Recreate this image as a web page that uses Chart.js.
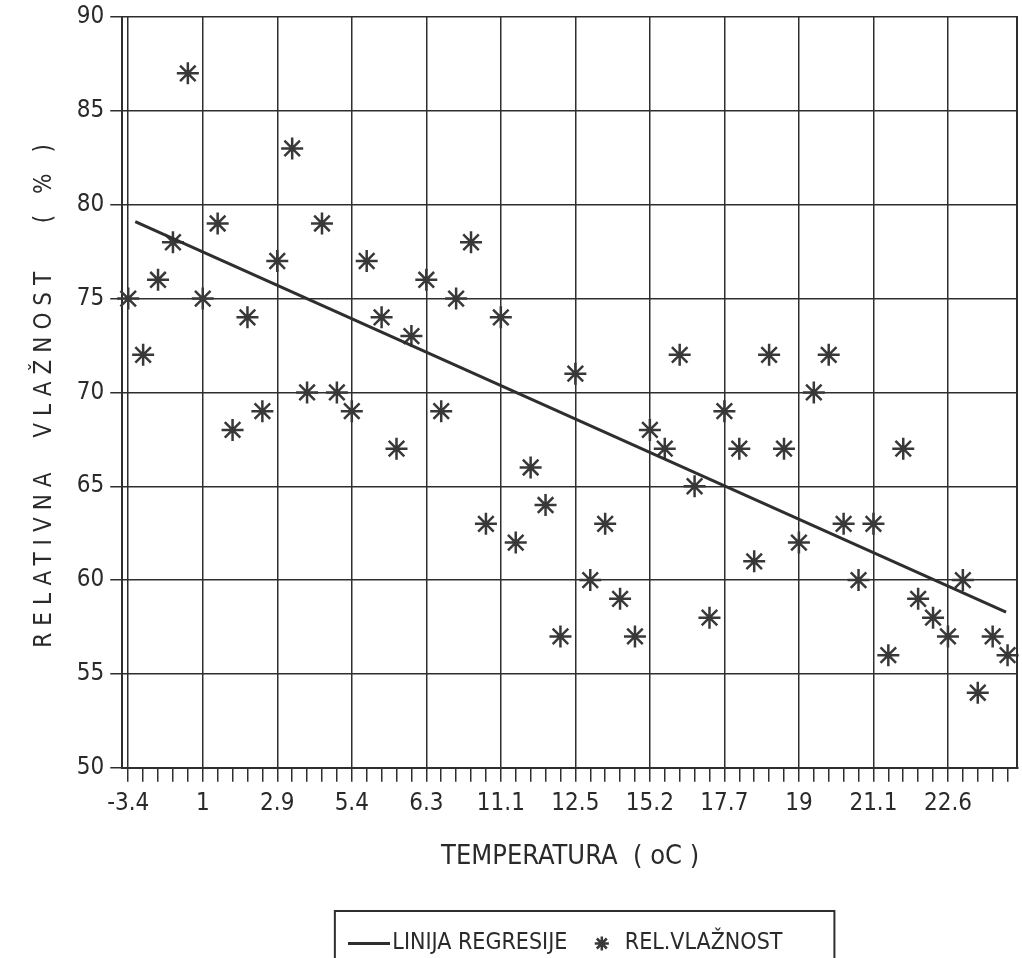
<!DOCTYPE html>
<html>
<head>
<meta charset="utf-8">
<script src="https://cdn.jsdelivr.net/npm/chart.js@4/dist/chart.umd.min.js"></script>
<style>
  body { margin: 0; background: #fff; }
</style>
</head>
<body>
<canvas id="chart" width="1022" height="958"></canvas>
<script>
// oznake na x osi (svaka peta tocka)
const tickLabels = ['-3.4', '1', '2.9', '5.4', '6.3', '11.1', '12.5', '15.2', '17.7', '19', '21.1', '22.6'];
// relativna vlaznost (%)
const relVlaznost = [75, 72, 76, 78, 87, 75, 79, 68, 74, 69,
                     77, 83, 70, 79, 70, 69, 77, 74, 67, 73,
                     76, 69, 75, 78, 63, 74, 62, 66, 64, 57,
                     71, 60, 63, 59, 57, 68, 67, 72, 65, 58,
                     69, 67, 61, 72, 67, 62, 70, 72, 63, 60,
                     63, 56, 67, 59, 58, 57, 60, 54, 57, 56];
// linija regresije, pocetak i kraj
const regresijaX = [0.47, 58.9];
const regresijaY = [79.1, 58.3];

const ink = '#2e2e2e';
const fontFam = "'DejaVu Sans Condensed', 'Liberation Sans Narrow', 'DejaVu Sans', sans-serif";

// sličica crte za legendu
const crta = document.createElement('canvas');
crta.width = 42;
crta.height = 3;
const cc = crta.getContext('2d');
cc.fillStyle = ink;
cc.fillRect(0, 0, 42, 3);

// y naslov je razmaknut kao na originalu
const spacedTitle = {
    id: 'spacedTitle',
    afterLayout(chart) {
        const s = chart.scales.y;
        if (s._spaced) return;
        const orig = s.drawTitle.bind(s);
        s.drawTitle = function () {
            this.ctx.save();
            this.ctx.letterSpacing = '7px';
            orig();
            this.ctx.restore();
        };
        s._spaced = true;
    }
};

// desni rub i okvir oko legende
const frames = {
    id: 'frames',
    afterDraw(chart) {
        const ctx = chart.ctx;
        const a = chart.chartArea;
        ctx.save();
        ctx.strokeStyle = ink;
        ctx.lineWidth = 2;
        ctx.beginPath();
        ctx.moveTo(a.right - 1, a.top);
        ctx.lineTo(a.right - 1, a.bottom);
        ctx.stroke();
        const boxes = chart.legend.legendHitBoxes;
        if (boxes && boxes.length) {
            const left = Math.min(...boxes.map(b => b.left));
            const right = Math.max(...boxes.map(b => b.left + b.width));
            const top = Math.min(...boxes.map(b => b.top));
            ctx.strokeRect(left - 23, top - 21, right - left + 75, 90);
        }
        ctx.restore();
    }
};

const ctx = document.getElementById('chart');

new Chart(ctx, {
    type: 'scatter',
    data: {
        datasets: [{
            label: 'LINIJA REGRESIJE',
            data: regresijaX.map((x, i) => ({x: x, y: regresijaY[i]})),
            showLine: true,
            borderColor: ink,
            borderWidth: 3,
            pointRadius: 0,
            pointStyle: crta
        }, {
            label: 'REL.VLAŽNOST',
            data: relVlaznost.map((v, i) => ({x: i, y: v})),
            pointStyle: 'star',
            pointRadius: 11,
            pointBorderWidth: 2.5,
            borderColor: '#383838',
            backgroundColor: '#383838',
            clip: false
        }]
    },
    options: {
        responsive: false,
        animation: false,
        devicePixelRatio: 1,
        layout: {
            autoPadding: false,
            padding: {left: 30, right: 4, top: 17, bottom: -7}
        },
        scales: {
            x: {
                type: 'linear',
                min: -0.4,
                max: 59.7,
                afterBuildTicks: (scale) => {
                    scale.ticks = relVlaznost.map((v, i) => ({value: i}));
                },
                afterFit: (scale) => {
                    scale.paddingRight = 0;
                },
                ticks: {
                    autoSkip: false,
                    maxRotation: 0,
                    padding: 8,
                    color: '#2a2a2a',
                    font: {family: fontFam, size: 24},
                    callback: (v) => v % 5 === 0 ? tickLabels[v / 5] : ''
                },
                grid: {
                    color: (c) => c.tick && c.tick.value % 5 === 0 ? ink : 'rgba(0,0,0,0)',
                    tickColor: ink,
                    lineWidth: 1.5,
                    tickLength: 14
                },
                border: {color: ink, width: 2},
                title: {
                    display: true,
                    text: 'TEMPERATURA  ( oC )',
                    color: '#2a2a2a',
                    font: {family: fontFam, size: 27},
                    padding: {top: 14, bottom: 36}
                }
            },
            y: {
                min: 50,
                max: 90,
                afterFit: (scale) => {
                    scale.paddingTop = 0;
                },
                ticks: {
                    stepSize: 5,
                    padding: 6,
                    color: '#2a2a2a',
                    font: {family: fontFam, size: 24}
                },
                grid: {
                    color: ink,
                    lineWidth: 1.5,
                    tickLength: 12
                },
                border: {color: ink, width: 2},
                title: {
                    display: true,
                    text: 'RELATIVNA  VLAŽNOST   ( % )',
                    color: '#2a2a2a',
                    font: {family: fontFam, size: 24},
                    padding: {top: 0, bottom: 12}
                }
            }
        },
        plugins: {
            legend: {
                position: 'bottom',
                fullSize: false,
                labels: {
                    usePointStyle: true,
                    boxHeight: 10,
                    padding: 23,
                    color: '#2a2a2a',
                    font: {family: fontFam, size: 23}
                }
            },
            tooltip: {enabled: false}
        }
    },
    plugins: [spacedTitle, frames]
});
</script>
</body>
</html>
